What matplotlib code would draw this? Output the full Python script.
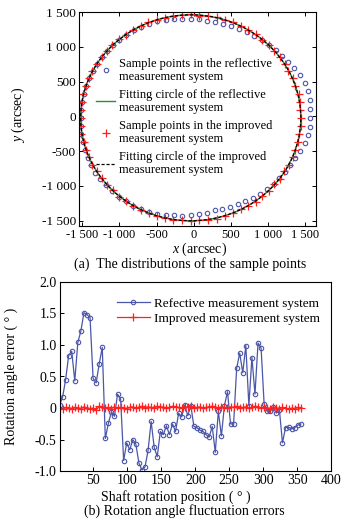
import numpy as np
import matplotlib
matplotlib.use("Agg")
import matplotlib.pyplot as plt

plt.rcParams['font.family'] = ['Liberation Serif', 'DejaVu Serif']
plt.rcParams['mathtext.fontset'] = 'custom'
plt.rcParams['mathtext.rm'] = 'Liberation Serif'
plt.rcParams['mathtext.it'] = 'Liberation Serif:italic'
plt.rcParams['xtick.direction'] = 'in'
plt.rcParams['ytick.direction'] = 'in'

# ---------------- data: (a) sample points ----------------
sample_angle_deg = np.arange(0, 360, 4.5)
circle_center_x = -40.0
circle_center_y = -20.0
circle_radius = 1480.0
# radial deviation (arcsec) of reflective-system samples from the fitted circle
reflective_dev = [130, 135, 140, 140, 135, 115, 85, 60, 40, 20,
                  5, -15, -30, -38, -42, -50, -60, -67, -65, -62,
                  -60, -55, -40, -30, -20, -15, -10, -8, -5, -5,
                  -5, -3, 0, 0, 0, 0, 0, 0, 0, 0,
                  0, 5, 8, 12, 18, 22, 25, 25, 22, 18,
                  15, 10, 5, 0, -5, -15, -30, -45, -60, -70,
                  -80, -90, -100, -110, -105, -95, -85, -75, -60, -45,
                  -30, -15, -5, 0, 15, 40, 70, 95, 115, 125]
# radial deviation of improved-system samples
improved_dev = [5, -8, 3, 10, -4, 6, -9, 2, 8, -5,
                4, -7, 9, 1, -3, 6, -8, 5, 2, -6,
                7, -2, 4, -9, 3, 8, -4, 1, -6, 5,
                9, -3, 2, -7, 6, -1, 4, 8, -5, 3,
                -8, 2, 7, -4, 5, -2, 9, -6, 1, 4,
                -3, 8, -7, 2, 6, -5, 3, -1, 7, -4,
                5, -8, 2, 9, -3, 4, -6, 1, 8, -2,
                3, -5, 6, -7, 2, 5, -4, 8, -1, 3]

# ---------------- data: (b) rotation angle errors ----------------
shaft_position = np.arange(0, 360, 4.5)
reflective_err = [0.05, 0.17, 0.45, 0.83, 0.90, 0.43, 1.04, 1.22, 1.51, 1.48,
                  1.43, 0.47, 0.40, 0.70, 0.96, -0.48, -0.24, -0.06, -0.13, 0.22,
                  0.15, -0.83, -0.55, -0.66, -0.50, -0.57, -0.87, -0.98, -0.93, -0.67,
                  -0.21, -0.62, -0.77, -0.37, -0.42, -0.28, -0.42, -0.25, -0.37, -0.08,
                  -0.14, 0.05, -0.12, 0.04, -0.29, -0.31, -0.35, -0.37, -0.42, -0.46,
                  -0.29, -0.70, -0.05, -0.44, 0.04, 0.26, -0.25, -0.25, 0.63, 0.87,
                  0.56, 0.99, 0.04, 0.80, 0.22, 1.03, 0.95, 0.06, -0.05, -0.05,
                  0.01, -0.08, -0.03, -0.55, -0.31, -0.30, -0.33, -0.31, -0.27, -0.25]
improved_err = [0.0, -0.01, 0.01, 0.0, -0.02, 0.01, 0.0, -0.01, 0.02, 0.0,
                -0.01, 0.0, -0.03, 0.03, 0.02, 0.0, 0.01, -0.01, 0.02, 0.0,
                0.01, 0.0, -0.01, 0.01, 0.02, 0.0, 0.01, 0.03, 0.0, 0.02,
                0.01, 0.0, 0.03, 0.01, 0.02, 0.0, 0.01, 0.03, 0.02, 0.01,
                0.0, 0.02, 0.01, 0.03, 0.0, 0.01, 0.02, 0.0, 0.01, 0.02,
                0.03, 0.01, 0.0, 0.02, 0.01, 0.0, 0.02, 0.01, 0.03, 0.0,
                0.01, 0.02, 0.0, 0.01, 0.03, 0.02, 0.0, 0.01, 0.0, -0.01,
                0.02, 0.0, -0.01, 0.01, 0.0, -0.02, 0.0, -0.01, 0.01, 0.0]

xy_ticks = [-1500, -1000, -500, 0, 500, 1000, 1500]
xy_ticklabels = ['-1 500', '-1 000', '-500', '0', '500', '1 000', '1 500']
err_yticks = [-1.0, -0.5, 0, 0.5, 1.0, 1.5, 2.0]
err_yticklabels = ['-1.0', '-0.5', '0', '0.5', '1.0', '1.5', '2.0']
pos_xticks = [50, 100, 150, 200, 250, 300, 350, 400]

BLUE = '#4a56a8'
RED = '#ff2020'
GREEN = '#2e8b3a'
FS = 9

W, H = 353, 523
fig = plt.figure(figsize=(W / 100, H / 100), dpi=100)

def box(l, t, r, b):
    return [l / W, 1 - b / H, (r - l) / W, (b - t) / H]

# ---------------- (a) ----------------
ax1 = fig.add_axes(box(78.7, 11.7, 315.7, 226))
th = np.deg2rad(sample_angle_deg)
r_ref = circle_radius + np.array(reflective_dev, float)
r_imp = circle_radius + np.array(improved_dev, float)
tt = np.linspace(0, 2 * np.pi, 400)
ax1.plot(circle_center_x + r_ref * np.cos(th), circle_center_y + r_ref * np.sin(th),
         linestyle='none', marker='o', ms=3.2, mfc='none', mec=BLUE, mew=0.8,
         label='Sample points in the reflective\nmeasurement system')
ax1.plot(circle_center_x + circle_radius * np.cos(tt), circle_center_y + circle_radius * np.sin(tt),
         color=GREEN, lw=1.0, label='Fitting circle of the reflective\nmeasurement system')
ax1.plot(circle_center_x + r_imp * np.cos(th), circle_center_y + r_imp * np.sin(th),
         linestyle='none', marker='+', ms=6, mec=RED, mew=0.9,
         label='Sample points in the improved\nmeasurement system')
ax1.plot(circle_center_x + circle_radius * np.cos(tt), circle_center_y + circle_radius * np.sin(tt),
         color='black', lw=0.9, linestyle=(0, (2.5, 1.5)),
         label='Fitting circle of the improved\nmeasurement system')
ax1.set_xlim(-1546, 1640)
ax1.set_ylim(-1575, 1505)
ax1.set_xticks(xy_ticks)
ax1.set_xticklabels(xy_ticklabels)
ax1.set_yticks(xy_ticks)
ax1.set_yticklabels(xy_ticklabels)
ax1.tick_params(labelsize=FS + 0.5, length=3, width=0.7, top=True, right=True, pad=2)
ax1.tick_params(axis='x', labelsize=FS)
for s in ax1.spines.values():
    s.set_linewidth(0.8)
leg1 = ax1.legend(loc='upper left', bbox_to_anchor=(0.075, 0.785), frameon=False,
                  fontsize=FS, handlelength=1.5, handletextpad=0.3,
                  labelspacing=0.5, borderpad=0, borderaxespad=0)
for t in leg1.get_texts():
    t.set_linespacing(1.1)

fig.text(200 / W, 1 - 249 / H, '$x$ (arcsec)', ha='center', va='center', fontsize=FS + 1)
fig.text(18 / W, 1 - 115 / H, '$y$ (arcsec)', ha='center', va='center', rotation=90, fontsize=FS + 1)
fig.text(190.5 / W, 1 - 264 / H, '(a)  The distributions of the sample points',
         ha='center', va='center', fontsize=FS + 1)

# ---------------- (b) ----------------
ax2 = fig.add_axes(box(59.5, 281.7, 331, 471.3))
ax2.plot(shaft_position, reflective_err, color=BLUE, lw=0.9, marker='o', ms=3.2,
         mfc='none', mec=BLUE, mew=0.8, label='Refective measurement system')
ax2.plot(shaft_position, improved_err, color=RED, lw=0.9, marker='+', ms=6,
         mew=0.9, label='Improved measurement system')
ax2.set_xlim(0, 400)
ax2.set_ylim(-1.0, 2.0)
ax2.set_xticks(pos_xticks)
ax2.set_yticks(err_yticks)
ax2.set_yticklabels(err_yticklabels)
ax2.tick_params(labelsize=FS + 1, length=3, width=0.7, pad=2)
for s in ax2.spines.values():
    s.set_linewidth(0.8)
leg2 = ax2.legend(loc='upper left', bbox_to_anchor=(0.21, 0.915), frameon=False,
                  fontsize=FS + 0.5, handlelength=2.5, handletextpad=0.35,
                  labelspacing=0.2, borderpad=0, borderaxespad=0)

fig.text(176 / W, 1 - 497 / H, 'Shaft rotation position ( ° )', ha='center', va='center', fontsize=FS + 1)
fig.text(11 / W, 1 - 376 / H, 'Rotation angle error ( ° )', ha='center', va='center',
         rotation=90, fontsize=FS + 1)
fig.text(184.5 / W, 1 - 511 / H, '(b) Rotation angle fluctuation errors',
         ha='center', va='center', fontsize=FS + 1)

fig.savefig('out.png', dpi=100)
